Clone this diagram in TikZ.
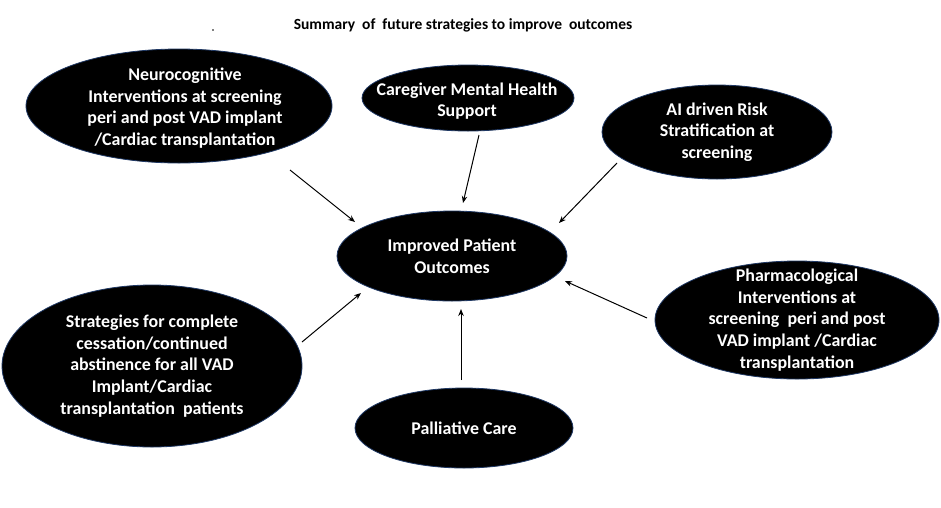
\documentclass[tikz,border=0pt]{standalone}
\usepackage{fontspec}
\setmainfont{Carlito}
\usetikzlibrary{shapes.geometric,arrows.meta}
\definecolor{rim}{HTML}{1F3864}
\tikzset{
  oval/.style={ellipse, draw=rim, line width=0.8pt, fill=black, inner sep=0pt},
  lbl/.style={text=white, font=\bfseries\fontsize{17.9}{21.7}\selectfont, align=center, inner sep=0pt},
  arr/.style={draw=black, line width=1pt, -{Stealth[length=7pt,width=5.5pt]}},
  ttl/.style={font=\bfseries\fontsize{15.5}{17}\selectfont, text=black, inner sep=0pt}
}
\begin{document}
\begin{tikzpicture}[x=1pt,y=-1pt]
\useasboundingbox (0,0) rectangle (941,507);
\node[ttl] (title) at (463,25) {Summary\ \ of\ \ future strategies to improve\ \ outcomes};
\fill (213,30) circle (0.9);
\node[oval, minimum width=306, minimum height=114] (neuro) at (179,106) {};
\node[lbl] (neurot) at (185,108) {Neurocognitive\\Interventions at screening\\peri and post VAD implant\\/Cardiac transplantation};
\node[oval, minimum width=212, minimum height=66] (care) at (468,98) {};
\node[lbl] (caret) at (467,101) {Caregiver Mental Health\\Support};
\node[oval, minimum width=230, minimum height=94] (ai) at (717,132) {};
\node[lbl] (ait) at (ai.center) {AI driven Risk\\Stratification at\\screening};
\node[oval, minimum width=230, minimum height=90] (out) at (452,256) {};
\node[lbl] (outt) at (out.center) {Improved Patient\\Outcomes};
\node[oval, minimum width=284, minimum height=118] (pharm) at (797,320) {};
\node[lbl] (pharmt) at (pharm.center) {Pharmacological\\Interventions at\\screening\ \ peri and post\\VAD implant /Cardiac\\transplantation};
\node[oval, minimum width=300, minimum height=162] (strat) at (152,366) {};
\node[lbl] (stratt) at (strat.center) {Strategies for complete\\cessation/continued\\abstinence for all VAD\\Implant/Cardiac\\transplantation\ \ patients};
\node[oval, minimum width=218, minimum height=80] (pall) at (464,428) {};
\node[lbl] (pallt) at (pall.center) {Palliative Care};
\coordinate (n1) at (290,170); \coordinate (n2) at (355,222);
\coordinate (c1) at (479,135); \coordinate (c2) at (463,203);
\coordinate (a1) at (617,163); \coordinate (a2) at (559,223);
\coordinate (s1) at (302,342); \coordinate (s2) at (361,293);
\coordinate (p1) at (647,318); \coordinate (p2) at (565,281);
\coordinate (l1) at (461,380); \coordinate (l2) at (461,309);
\draw[arr] (n1) -- (n2);
\draw[arr] (c1) -- (c2);
\draw[arr] (a1) -- (a2);
\draw[arr] (s1) -- (s2);
\draw[arr] (p1) -- (p2);
\draw[arr] (l1) -- (l2);
\end{tikzpicture}
\end{document}
